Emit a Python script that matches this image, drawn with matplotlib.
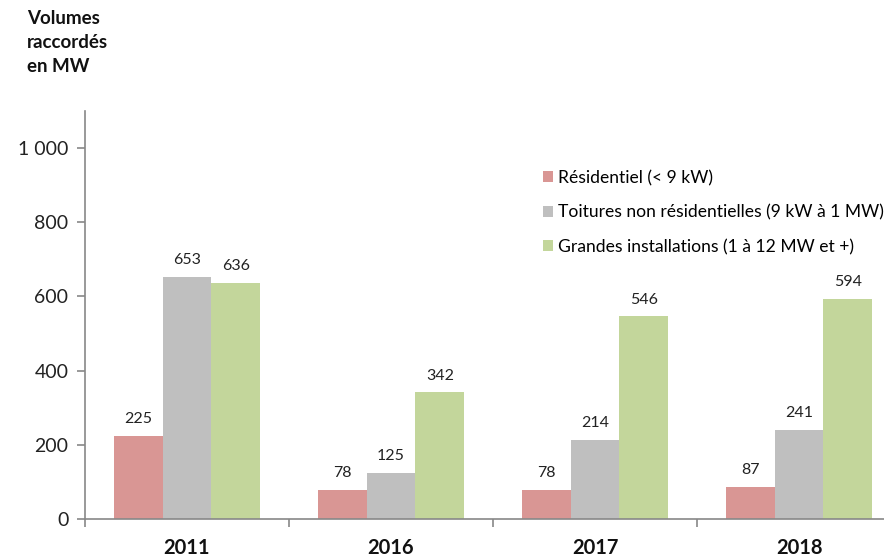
import matplotlib
matplotlib.use('Agg')
import matplotlib.pyplot as plt
import numpy as np

plt.rcParams['font.family'] = ['Lato', 'DejaVu Sans']

years = ['2011', '2016', '2017', '2018']
residentiel = [225, 78, 78, 87]
toitures = [653, 125, 214, 241]
grandes = [636, 342, 546, 594]

series = [
    ('Résidentiel (< 9 kW)', residentiel, '#D99694'),
    ('Toitures non résidentielles (9 kW à 1 MW)', toitures, '#BFBFBF'),
    ('Grandes installations (1 à 12 MW et +)', grandes, '#C3D69B'),
]

fig = plt.figure(figsize=(8.84, 5.59), dpi=100)
# axis runs a little past the right edge of the figure
ax = fig.add_axes([85 / 884, 40 / 559, 816 / 884, 408 / 559])

x = np.arange(len(years))
width = 0.24
for i, (label, vals, color) in enumerate(series):
    pos = x + (i - 1) * width
    ax.bar(pos, vals, width, color=color, label=label)
    for xp, v in zip(pos, vals):
        ax.text(xp, v + 26, str(v), ha='center', va='bottom', fontsize=11.5, color='#222222')

ax.set_xlim(-0.5, 3.5)
ax.set_ylim(0, 1100)
ax.set_yticks([0, 200, 400, 600, 800, 1000])
ax.set_yticklabels(['0', '200', '400', '600', '800', '1 000'], fontsize=14, color='#222222')

# category boundaries as tick marks, year labels drawn separately
ax.set_xticks(np.arange(-0.5, 4.0, 1.0))
ax.set_xticklabels([])
for xp, yr in zip(x, years):
    ax.text(xp, -0.07, yr, transform=ax.get_xaxis_transform(), ha='center', va='center',
            fontsize=14.5, fontweight='bold', color='#111111')

for s in ['top', 'right']:
    ax.spines[s].set_visible(False)
for s in ['left', 'bottom']:
    ax.spines[s].set_color('#888888')
    ax.spines[s].set_linewidth(1.2)
ax.tick_params(axis='y', direction='out', length=6, color='#888888', width=1.2, pad=6)
ax.tick_params(axis='x', direction='out', length=6, color='#888888', width=1.2)

ax.legend(loc='upper left', bbox_to_anchor=(0.553, 0.873), frameon=False, fontsize=12.6,
          handlelength=0.55, handleheight=0.55, handletextpad=0.3, labelspacing=1.05,
          borderaxespad=0)

fig.text(27 / 884, 1 - 10 / 559, 'Volumes\nraccordés\nen MW', ha='left', va='top',
         fontsize=13.5, fontweight='bold', color='#111111', linespacing=1.5)

plt.savefig('out.png', dpi=100)
plt.close()
